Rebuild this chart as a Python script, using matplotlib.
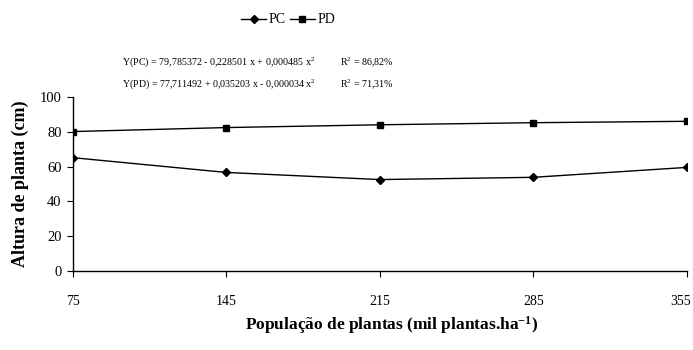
import matplotlib.pyplot as plt
import matplotlib.transforms as mtransforms

plt.rcParams['font.family'] = ['Liberation Serif', 'DejaVu Serif']
plt.rcParams['mathtext.fontset'] = 'custom'
plt.rcParams['mathtext.rm'] = 'Liberation Serif'
plt.rcParams['mathtext.it'] = 'Liberation Serif:italic'
plt.rcParams['mathtext.bf'] = 'Liberation Serif:bold'

# data
populacao = [75, 145, 215, 285, 355]
pc = [65.1, 56.6, 52.5, 53.8, 59.5]
pd_vals = [80.1, 82.4, 84.0, 85.2, 86.0]
y_ticks = [0, 20, 40, 60, 80, 100]

fig = plt.figure(figsize=(6.93, 3.5), dpi=100)
ax = fig.add_axes([0.105, 0.226, 0.886, 0.497])

ax.plot(populacao, pc, color='black', lw=1, marker='D', ms=4.5, label='PC')
ax.plot(populacao, pd_vals, color='black', lw=1, marker='s', ms=5, label='PD')

ax.set_xlim(75, 355)
ax.set_ylim(0, 100)
ax.set_xticks(populacao)
ax.set_yticks(y_ticks)
ax.spines['top'].set_visible(False)
ax.spines['right'].set_visible(False)
ax.tick_params(axis='x', direction='out', length=4, pad=13, labelsize=10)
ax.tick_params(axis='y', direction='out', length=4, pad=4, labelsize=10.5)
for sp in ax.spines.values():
    sp.set_linewidth(1)

# last label sits a bit left of its tick, as in the original
last = ax.get_xticklabels()[-1]
last.set_transform(last.get_transform() +
                   mtransforms.ScaledTranslation(-6 / 100, 0, fig.dpi_scale_trans))

ax.set_ylabel('Altura de planta (cm)', fontsize=13, fontweight='bold', labelpad=8)
ax.set_xlabel('População de plantas (mil plantas.ha$^{\\mathbf{-1}}$)', fontsize=12.5,
              fontweight='bold', labelpad=8)
ax.xaxis.set_label_coords(0.52, -0.25)

fig.legend(loc='center', bbox_to_anchor=(0.416, 0.943), ncol=2, frameon=False,
           fontsize=10, handlelength=1.8, columnspacing=0.3, handletextpad=0.2)

fig.text(0.176, 0.823, 'Y(PC) = 79,785372 - 0,228501 x + 0,000485 x$^{2}$',
         fontsize=7.2, ha='left', va='center')
fig.text(0.49, 0.823, 'R$^{2}$ = 86,82%', fontsize=7.2, ha='left', va='center')
fig.text(0.176, 0.76, 'Y(PD) = 77,711492 + 0,035203 x - 0,000034 x$^{2}$',
         fontsize=7.2, ha='left', va='center')
fig.text(0.49, 0.76, 'R$^{2}$ = 71,31%', fontsize=7.2, ha='left', va='center')

fig.savefig('out.png', dpi=100)
